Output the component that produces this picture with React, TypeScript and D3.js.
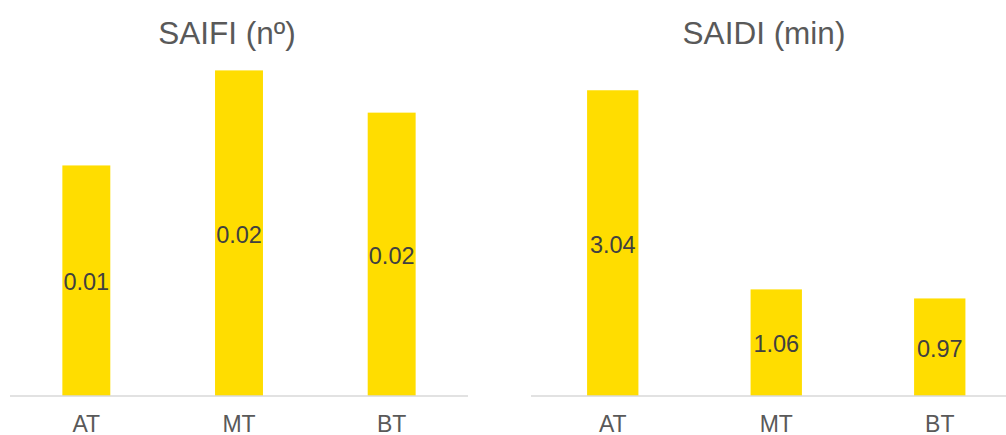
import React from "react";
import * as d3 from "d3";

// Reliability indices by voltage level
const categories = ["AT", "MT", "BT"];
const saifiValues = [0.0131, 0.0185, 0.0161];
const saidiValues = [3.04, 1.06, 0.97];
const saifiTitle = "SAIFI (nº)";
const saidiTitle = "SAIDI (min)";
const saifiMax = 0.02;
const saidiMax = 3.5;

const WIDTH = 1006;
const HEIGHT = 435;
const BASELINE = 396;
const PLOT_TOP = 44;
const BAR_COLOR = "#FFDD00";
const FONT = "'Liberation Sans', Arial, sans-serif";

type PanelProps = {
  title: string;
  values: number[];
  yMax: number;
  x0: number;
  x1: number;
  titleX: number;
  lineEnd: number;
};

function Panel({ title, values, yMax, x0, x1, titleX, lineEnd }: PanelProps) {
  const x = d3
    .scaleBand<string>()
    .domain(categories)
    .range([x0, x1])
    .paddingInner(0.686)
    .paddingOuter(0.343);
  const y = d3.scaleLinear().domain([0, yMax]).range([BASELINE, PLOT_TOP]);
  const fmt = d3.format(".2f");

  return (
    <g>
      <text
        x={titleX}
        y={43.5}
        textAnchor="middle"
        fontSize={31.5}
        fill="#595959"
        fontFamily={FONT}
      >
        {title}
      </text>
      {categories.map((c, i) => {
        const bx = x(c) ?? 0;
        const top = y(values[i]);
        const mid = (top + BASELINE) / 2;
        return (
          <g key={c}>
            <rect
              x={bx}
              y={top}
              width={x.bandwidth()}
              height={BASELINE - top}
              fill={BAR_COLOR}
            />
            <text
              x={bx + x.bandwidth() / 2}
              y={mid + 9.5}
              textAnchor="middle"
              fontSize={23.5}
              fill="#404040"
              fontFamily={FONT}
            >
              {fmt(values[i])}
            </text>
            <text
              x={bx + x.bandwidth() / 2}
              y={431.5}
              textAnchor="middle"
              fontSize={23}
              fill="#595959"
              fontFamily={FONT}
            >
              {c}
            </text>
          </g>
        );
      })}
      <line
        x1={x0}
        x2={lineEnd}
        y1={BASELINE}
        y2={BASELINE}
        stroke="#D9D9D9"
        strokeWidth={1.5}
      />
    </g>
  );
}

export default function App() {
  return (
    <svg
      width={WIDTH}
      height={HEIGHT}
      style={{ position: "absolute", left: 0, top: 0, background: "#fff" }}
    >
      <rect width={WIDTH} height={HEIGHT} fill="#fff" />
      <Panel
        title={saifiTitle}
        values={saifiValues}
        yMax={saifiMax}
        x0={10}
        x1={468}
        titleX={227}
        lineEnd={468}
      />
      <Panel
        title={saidiTitle}
        values={saidiValues}
        yMax={saidiMax}
        x0={531}
        x1={1021.5}
        titleX={764}
        lineEnd={1006}
      />
    </svg>
  );
}
